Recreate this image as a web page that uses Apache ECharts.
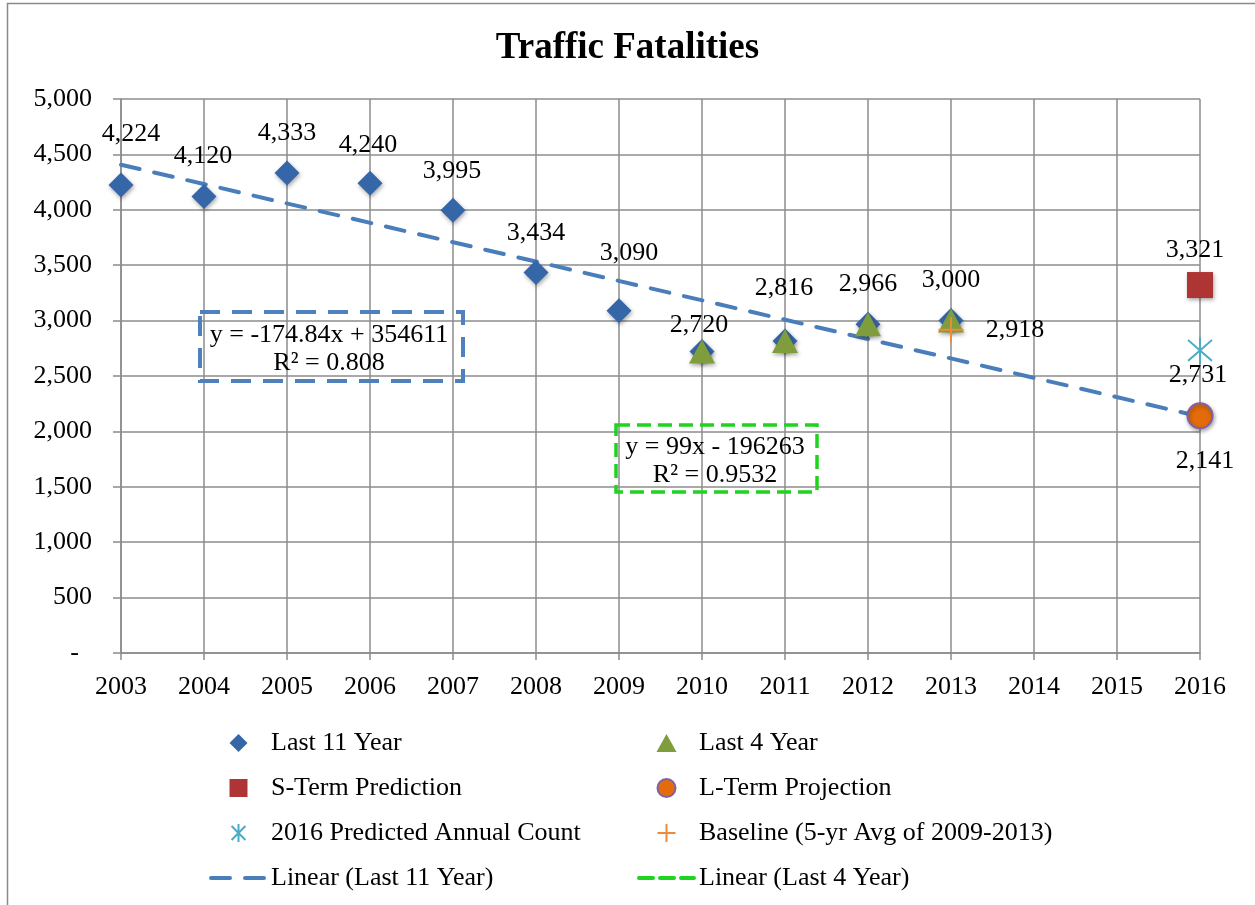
<!DOCTYPE html>
<html>
<head>
<meta charset="utf-8">
<title>Traffic Fatalities</title>
<script src="https://cdn.jsdelivr.net/npm/echarts@6/dist/echarts.min.js"></script>
<style>
html, body { margin: 0; padding: 0; background: #fff; }
#chart { width: 1255px; height: 905px; }
</style>
</head>
<body>
<div id="chart"></div>
<script>
// values
var years11 = [2003, 2004, 2005, 2006, 2007, 2008, 2009, 2010, 2011, 2012, 2013];
var last11 = [4224, 4120, 4333, 4240, 3995, 3434, 3090, 2720, 2816, 2966, 3000];
var years4 = [2010, 2011, 2012, 2013];
var last4 = [2720, 2816, 2966, 3000];
var predYear = 2016;
var sTerm = 3321;
var lTerm = 2141;
var predicted = 2731;
var baseYear = 2013;
var baseline = 2918;
var trend11Years = [2003, 2016];
var trend11Vals = [4407, 2134];
var yTicks = [0, 500, 1000, 1500, 2000, 2500, 3000, 3500, 4000, 4500, 5000];

var FONT = '"Liberation Serif", "Times New Roman", serif';
var GRID = '#8c8c8c';
var FS = 26;
var ASTERISK = 'path://M0,3 L20,23 M20,3 L0,23 M10,0 L10,26';
var PLUS = 'path://M10,0 L10,20 M0,10 L20,10';
// square legend icons (built-in symbols stretch to the item box)
var DIAMOND_ICON = 'path://M10,0 L20,10 L10,20 L0,10 Z';
var RECT_ICON = 'path://M0,0 L20,0 L20,20 L0,20 Z';
var TRI_ICON = 'path://M10,0 L20,18 L0,18 Z';

// label nudges (pixels) for the 11 year points
var nudge11 = [[10,-51],[-1,-40],[0,-40],[-2,-38],[-1,-39],[0,-39],[10,-57],[-3,-26],[-1,-53],[0,-40],[0,-40]];

function pairs(xs, ys) {
	var out = [];
	for (var i = 0; i < xs.length; i++) out.push([xs[i], ys[i]]);
	return out;
}
function fmt(v) {
	return v.toLocaleString('en-US');
}
var shadow = { opacity: 1, shadowBlur: 4, shadowColor: 'rgba(0,0,0,0.35)', shadowOffsetX: 1, shadowOffsetY: 2 };
var lbl = { show: true, position: 'inside', color: '#000', fontFamily: FONT, fontSize: FS };

var d11 = pairs(years11, last11).map(function(p, i) {
	return { value: p, label: { offset: nudge11[i] } };
});

var legendText = { fontFamily: FONT, fontSize: FS, lineHeight: 28, color: '#000' };

var chart = echarts.init(document.getElementById('chart'));
chart.setOption({
	animation: false,
	title: {
		text: 'Traffic Fatalities',
		left: 'center',
		top: 25,
		textStyle: { fontFamily: FONT, fontSize: 37, fontWeight: 'bold', color: '#000' }
	},
	grid: { left: 121, right: 55, top: 99, bottom: 252 },
	xAxis: {
		type: 'value',
		min: 2003, max: 2016, interval: 1,
		axisLine: { show: true, lineStyle: { color: GRID, width: 1.5 } },
		axisTick: { show: true, length: 7, lineStyle: { color: GRID, width: 1.5 } },
		splitLine: { show: true, lineStyle: { color: GRID, width: 1.5 } },
		axisLabel: { margin: 21, color: '#000', fontFamily: FONT, fontSize: FS, lineHeight: 26,
			formatter: function(v) { return String(v); } }
	},
	yAxis: {
		type: 'value',
		min: yTicks[0], max: yTicks[yTicks.length - 1], interval: 500,
		axisLine: { show: true, lineStyle: { color: GRID, width: 1.5 } },
		axisTick: { show: true, length: 8, lineStyle: { color: GRID, width: 1.5 } },
		splitLine: { show: true, lineStyle: { color: GRID, width: 1.5 } },
		axisLabel: { margin: 29, color: '#000', fontFamily: FONT, fontSize: FS,
			formatter: function(v) { return v === 0 ? '-  ' : fmt(v); } }
	},
	legend: [{
		orient: 'vertical', left: 209, top: 729, padding: 0, itemGap: 17,
		itemWidth: 55, itemHeight: 18, selectedMode: false, symbolKeepAspect: true,
		textStyle: legendText,
		data: [
			{ name: 'Last 11 Year', icon: DIAMOND_ICON },
			{ name: 'S-Term Prediction', icon: RECT_ICON },
			{ name: '2016 Predicted Annual Count' },
			{ name: 'Linear (Last 11 Year)', lineStyle: { width: 4 }, itemStyle: { opacity: 0 } }]
	}, {
		orient: 'vertical', left: 637, top: 729, padding: 0, itemGap: 17,
		itemWidth: 55, itemHeight: 18, selectedMode: false, symbolKeepAspect: true,
		textStyle: legendText,
		data: [
			{ name: 'Last 4 Year', icon: TRI_ICON },
			{ name: 'L-Term Projection', icon: 'circle' },
			{ name: 'Baseline (5-yr Avg of 2009-2013)' },
			{ name: 'Linear (Last 4 Year)', lineStyle: { width: 4 }, itemStyle: { opacity: 0 } }]
	}],
	series: [{
		name: 'Linear (Last 11 Year)',
		type: 'line',
		symbol: 'none',
		data: pairs(trend11Years, trend11Vals),
		itemStyle: { color: '#4A7EBB' },
		lineStyle: { color: '#4A7EBB', width: 4, type: [19, 15], cap: 'round' },
		z: 2
	}, {
		name: 'Linear (Last 4 Year)',
		type: 'line',
		symbol: 'none',
		data: [],
		itemStyle: { color: '#1ED41E' },
		lineStyle: { color: '#1ED41E', width: 4, type: [14, 7], cap: 'round' }
	}, {
		name: 'Last 11 Year',
		type: 'scatter',
		symbol: 'diamond',
		symbolSize: 25,
		data: d11,
		itemStyle: Object.assign({ color: '#3566A8' }, shadow),
		label: Object.assign({ formatter: function(p) { return fmt(p.value[1]); } }, lbl),
		z: 3
	}, {
		name: 'Last 4 Year',
		type: 'scatter',
		symbol: 'triangle',
		symbolSize: [26, 24],
		data: pairs(years4, last4),
		itemStyle: Object.assign({ color: '#7F9D3D' }, shadow),
		z: 4
	}, {
		name: 'S-Term Prediction',
		type: 'scatter',
		symbol: 'rect',
		symbolSize: 26,
		data: [{ value: [predYear, sTerm], label: { offset: [-5, -35] } }],
		itemStyle: Object.assign({ color: '#AE3533' }, shadow),
		label: Object.assign({ formatter: function(p) { return fmt(p.value[1]); } }, lbl),
		z: 4
	}, {
		name: 'L-Term Projection',
		type: 'scatter',
		symbol: 'circle',
		symbolSize: 25,
		data: [{ value: [predYear, lTerm], label: { offset: [5, 45] } }],
		itemStyle: Object.assign({ color: '#E36C09', borderColor: '#7F60A8', borderWidth: 2 }, shadow),
		label: Object.assign({ formatter: function(p) { return fmt(p.value[1]); } }, lbl),
		z: 4
	}, {
		name: '2016 Predicted Annual Count',
		type: 'scatter',
		symbol: ASTERISK,
		symbolSize: [24, 27],
		data: [{ value: [predYear, predicted], label: { offset: [-2, 25] } }],
		itemStyle: { opacity: 1, color: 'rgba(0,0,0,0)', borderColor: '#4BACC6', borderWidth: 2 },
		label: Object.assign({ formatter: function(p) { return fmt(p.value[1]); } }, lbl),
		z: 4
	}, {
		name: 'Baseline (5-yr Avg of 2009-2013)',
		type: 'scatter',
		symbol: PLUS,
		symbolSize: 25,
		data: [{ value: [baseYear, baseline], label: { offset: [64, 0] } }],
		itemStyle: { opacity: 1, color: 'rgba(0,0,0,0)', borderColor: '#EE8A3C', borderWidth: 2 },
		label: Object.assign({ formatter: function(p) { return fmt(p.value[1]); } }, lbl),
		z: 5
	}],
	graphic: [{
		type: 'rect',
		shape: { x: 7.5, y: 3.5, width: 1400, height: 1000 },
		style: { fill: 'none', stroke: '#8a8a8a', lineWidth: 1.5 },
		silent: true
	}, {
		type: 'rect',
		shape: { x: 200, y: 312, width: 263, height: 69 },
		style: { fill: 'none', stroke: '#4F81BD', lineWidth: 4, lineDash: [20, 12] },
		z: 10
	}, {
		type: 'text',
		x: 329, y: 349,
		style: { text: 'y = -174.84x + 354611\nR² = 0.808', align: 'center', verticalAlign: 'middle',
			font: FS + 'px ' + FONT, lineHeight: 28, fill: '#000' },
		z: 10
	}, {
		type: 'rect',
		shape: { x: 616, y: 425, width: 201, height: 67 },
		style: { fill: 'none', stroke: '#1ED41E', lineWidth: 3.5, lineDash: [14, 7] },
		z: 10
	}, {
		type: 'text',
		x: 715, y: 461,
		style: { text: 'y = 99x - 196263\nR² = 0.9532', align: 'center', verticalAlign: 'middle',
			font: FS + 'px ' + FONT, lineHeight: 28, fill: '#000' },
		z: 10
	}]
});
</script>
</body>
</html>
